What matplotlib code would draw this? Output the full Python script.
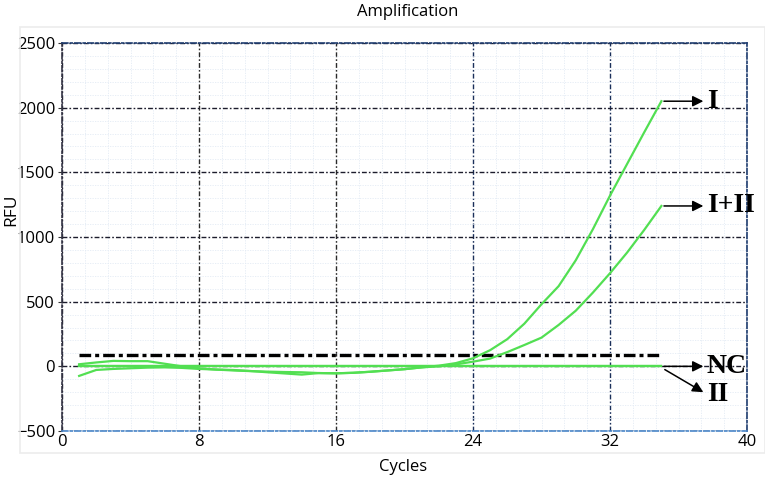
import matplotlib
matplotlib.use("Agg")
import matplotlib.pyplot as plt
from matplotlib.patches import Rectangle
import numpy as np

# ---------------- data ----------------
cycles = list(range(1, 36))
rfu_I = [16, 30, 42, 40, 40, 20, 0, -15, -25, -32, -37, -41, -44, -46, -52, -54,
         -50, -42, -32, -22, -8, 5, 25, 62, 125, 210, 330, 480, 620, 820, 1060,
         1320, 1565, 1810, 2050]
rfu_I_II = [-74, -28, -20, -15, -10, -8, -12, -20, -25, -28, -36, -46, -55, -64,
            -52, -54, -50, -42, -32, -22, -8, 0, 15, 36, 60, 110, 165, 222, 320,
            430, 570, 720, 880, 1055, 1240]
rfu_NC = [0, 0, 0, 0, 0, 0, 0, 0, 0, 0, 0, 0, 0, 0, 0, 0, 0, 0, 0, 0, 0, 0, 0,
          0, 0, 0, 0, 0, 0, 0, 0, 0, 0, 0, 0]
rfu_II = [0, 0, 0, 0, 0, 0, 0, 0, 0, 0, 0, 0, 0, 0, 0, 0, 0, 0, 0, 0, 0, 0, 0,
          0, 0, 0, 0, 0, 0, 0, 0, 0, 0, 0, 0]
threshold = 88
x_ticks = [0, 8, 16, 24, 32, 40]
y_ticks = [-500, 0, 500, 1000, 1500, 2000, 2500]
labels = ["I", "I+II", "NC", "II"]

# ---------------- figure ----------------
plt.rcParams['font.family'] = ['Open Sans', 'DejaVu Sans']
fig = plt.figure(figsize=(7.65, 4.84), dpi=100)
ax = fig.add_axes([62/765, 1-431/484, (747-62)/765, (431-43)/484])

# faint panel border
fig.patches.append(Rectangle((20/765, 1-453/484), (765-20)/765, (453-27)/484,
                             transform=fig.transFigure, fill=False,
                             edgecolor='#ececec', lw=1.2, zorder=0))

ax.set_xlim(0, 40)
ax.set_ylim(-500, 2500)
ax.set_xticks(x_ticks)
ax.set_yticks(y_ticks)
ax.set_xticks(np.arange(0, 40.01, 4/3), minor=True)
ax.set_yticks(np.arange(-500, 2501, 100), minor=True)

dd = (0, (3.5, 1.5, 1.2, 1.5))
ax.grid(which='minor', color='#e3ebf5', lw=0.6, ls=(0, (1.5, 1.5)))
ax.grid(which='major', axis='y', color='#1c1c2c', lw=1.0, ls=dd)
ax.grid(which='major', axis='x', color='#1c1c2c', lw=1.0, ls=dd)
for gl, c in zip(ax.get_xgridlines(), ['#1c1c2c', '#2a2a2a', '#2a2a2a', '#1a2f5a', '#1a2f5a', '#1a2f5a']):
    gl.set_color(c)
ax.set_axisbelow(True)

for side, c in [('top', '#1f3d70'), ('right', '#1f3d70'), ('bottom', '#4a86c8'), ('left', '#333344')]:
    ax.spines[side].set_color(c)
    ax.spines[side].set_linestyle(dd)
    ax.spines[side].set_linewidth(1.2)

ax.tick_params(which='both', length=0)
ax.tick_params(axis='y', which='major', length=3, pad=2, labelsize=12, color='#333333')
ax.tick_params(axis='x', which='major', pad=2, labelsize=12)

green = '#52df52'
ax.plot(cycles, rfu_NC, color=green, lw=1.6, zorder=3)
ax.plot(cycles, rfu_II, color=green, lw=1.6, zorder=3)
ax.plot(cycles, rfu_I_II, color=green, lw=1.6, zorder=3)
ax.plot(cycles, rfu_I, color=green, lw=1.6, zorder=3)
ax.plot([cycles[0], cycles[-1]], [threshold, threshold], color='black', lw=2.4,
        ls=(0, (3.5, 1.2, 1.2, 1.2)), zorder=2)

# annotations
serif = dict(family=['Liberation Serif', 'DejaVu Serif'], fontweight='bold', fontsize=20)
ap = dict(arrowstyle='-|>', color='black', lw=1.1, mutation_scale=16, shrinkA=0, shrinkB=0)
xe = cycles[-1]
ends = [rfu_I[-1], rfu_I_II[-1], rfu_NC[-1]]
for lab, ye in zip(labels[:3], ends):
    ax.annotate('', xy=(xe + 2.45, ye), xytext=(xe + 0.15, ye), arrowprops=ap,
                annotation_clip=False)
    ax.text(xe + 2.65, ye, lab, va='center', ha='left', **serif)
ax.annotate('', xy=(xe + 2.45, rfu_II[-1] - 200), xytext=(xe + 0.2, rfu_II[-1] - 25),
            arrowprops=ap, annotation_clip=False)
ax.text(xe + 2.65, rfu_II[-1] - 220, labels[3], va='center', ha='left', **serif)

fig.text(408/765, 1-12/484, 'Amplification', ha='center', va='center', fontsize=12,
         fontweight='medium')
fig.text(11/765, 1-210/484, 'RFU', ha='center', va='center', rotation=90, fontsize=12.5)
fig.text(403/765, 1-467/484, 'Cycles', ha='center', va='center', fontsize=12)

fig.savefig('out.png', dpi=100)
